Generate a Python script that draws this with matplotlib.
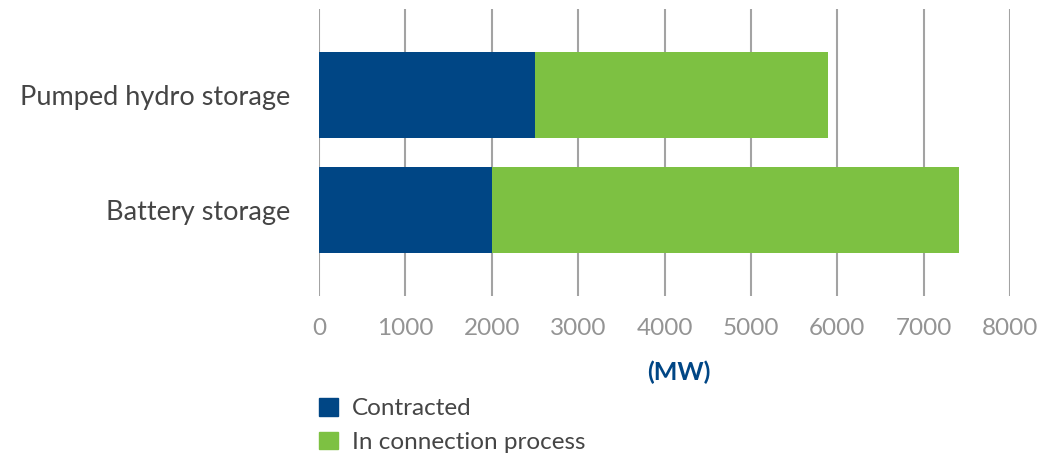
import matplotlib
matplotlib.use("Agg")
import matplotlib.pyplot as plt
from matplotlib.patches import Patch

categories = ["Battery storage", "Pumped hydro storage"]
contracted = [2000, 2500]
in_connection = [5410, 3390]
xticks = [0, 1000, 2000, 3000, 4000, 5000, 6000, 7000, 8000]

BLUE = "#004685"
GREEN = "#7DC142"
GRID = "#a3a3a3"
TICK = "#949494"

plt.rcParams["font.family"] = ["Lato", "DejaVu Sans"]

fig = plt.figure(figsize=(10.61, 4.54), dpi=100)
ax = fig.add_axes([0.3007, 0.348, 0.6513, 0.632])

y = list(range(len(categories)))
ax.barh(y, contracted, height=0.75, color=BLUE, zorder=3)
ax.barh(y, in_connection, left=contracted, height=0.75, color=GREEN, zorder=3)

ax.set_xlim(0, 8000)
ax.set_ylim(-0.75, 1.75)
ax.set_xticks(xticks)
ax.set_xticklabels([str(t) for t in xticks], color=TICK, fontsize=17.5)
ax.set_yticks(y)
ax.set_yticklabels(categories, color="#454545", fontsize=19.5)
ax.tick_params(axis="x", length=0, pad=16)
ax.tick_params(axis="y", length=0, pad=21)
for s in ax.spines.values():
    s.set_visible(False)
ax.grid(axis="x", color=GRID, linewidth=1.5, zorder=0)

fig.text(0.64, 0.18, "(MW)", color=BLUE, fontsize=18, fontweight="bold",
         ha="center", va="center")

handles = [Patch(color=BLUE, label="Contracted"),
           Patch(color=GREEN, label="In connection process")]
leg = fig.legend(handles=handles, loc="upper left", bbox_to_anchor=(0.2895, 0.15),
                 frameon=False, handlelength=0.75, handleheight=0.75,
                 handletextpad=0.6, labelspacing=0.5, borderpad=0,
                 prop={"size": 17.5})
for t in leg.get_texts():
    t.set_color("#454545")

fig.savefig("out.png", dpi=100)
